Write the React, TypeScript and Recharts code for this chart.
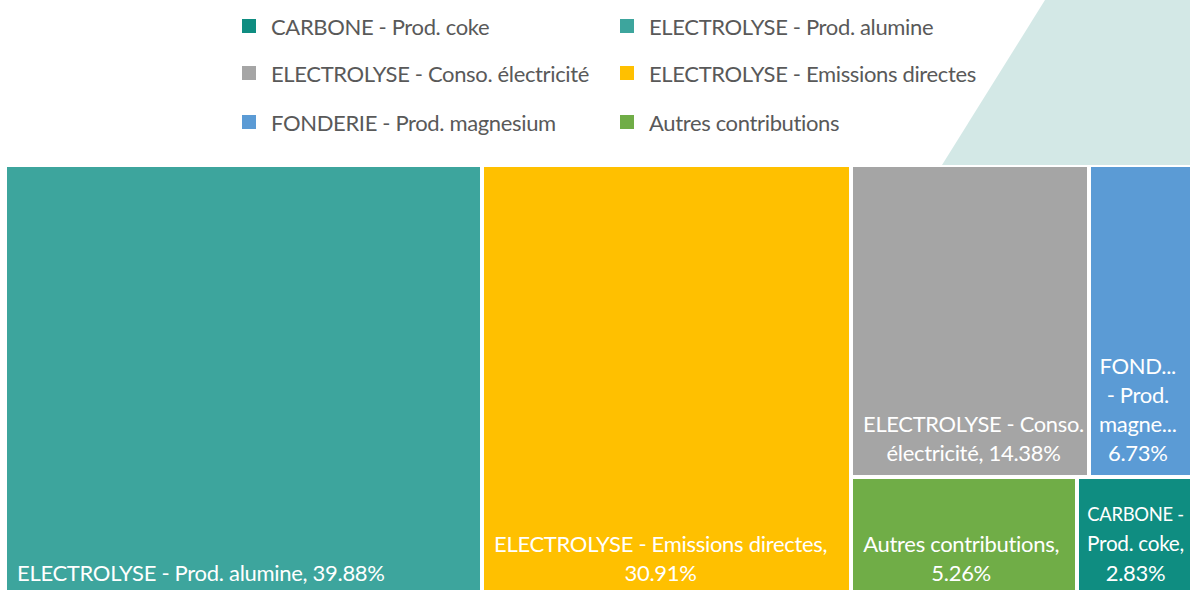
import React from 'react';
import { Treemap } from 'recharts';

// Treemap order (drives the squarified layout)
const categories = [
  'ELECTROLYSE - Prod. alumine',
  'ELECTROLYSE - Emissions directes',
  'ELECTROLYSE - Conso. électricité',
  'FONDERIE - Prod. magnesium',
  'Autres contributions',
  'CARBONE - Prod. coke',
];
const shares = [39.88, 30.91, 14.38, 6.73, 5.26, 2.83];
const colors = ['#3da59d', '#ffc000', '#a5a5a5', '#5b9bd5', '#70ad47', '#0f8d81'];

// legend reads row by row, two columns
const legendOrder = [5, 0, 2, 1, 3, 4];

const FONT = 'Lato, "Noto Sans", sans-serif';
const LABEL_SIZE = 22;
const LETTER = -0.3; // Lato runs a bit wider than the original font
const LINE_H = 29;
const FIT = 0.89; // how much a line may shrink to fit its tile
const CHART_LEFT = 5;
const VIEW_W = 1190;

const data = categories.map((name, i) => ({ name, size: shares[i], fill: colors[i] }));

let ctx: CanvasRenderingContext2D | null = null;
const measure = (s: string) => {
  if (!ctx) {
    ctx = document.createElement('canvas').getContext('2d');
  }
  if (!ctx) return s.length * LABEL_SIZE * 0.5;
  ctx.font = `${LABEL_SIZE}px ${FONT}`;
  return ctx.measureText(s).width + s.length * LETTER;
};
const fits = (s: string, maxW: number, f = FIT) => measure(s) * f <= maxW;

// greedy word wrap, long words get cut with "...", a lone "-" stays on its line
function wrap(text: string, maxW: number) {
  const words = text.split(' ');
  const lines: string[] = [];
  let cur = '';
  words.forEach(w => {
    const trial = cur ? cur + ' ' + w : w;
    const f = w === '-' && cur && !cur.includes(' ') ? 0.8 : FIT;
    if (fits(trial, maxW, f)) {
      cur = trial;
      return;
    }
    if (cur) lines.push(cur);
    if (fits(w, maxW)) {
      cur = w;
    } else {
      let cut = w;
      while (cut.length > 1 && measure(cut + '...') > maxW) cut = cut.slice(0, -1);
      lines.push(cut + '...');
      cur = '';
    }
  });
  if (cur) lines.push(cur);
  return lines;
}

const Tile = (props: any) => {
  const { x, y, width, height, depth, name, size, fill } = props;
  if (depth !== 1) return <g />;
  const label = `${name}, ${size.toFixed(2)}%`;
  const left = x + 2;
  const right = Math.min(x + width - 2, VIEW_W - CHART_LEFT);
  const narrow = right - left < 120;
  const padL = narrow ? 8 : 10;
  const avail = right - left - padL - (narrow ? 6 : 3);
  const lines = wrap(label, avail);
  const widths = lines.map(l => Math.min(measure(l), avail));
  const blockW = Math.max(...widths);
  const cx = left + padL + blockW / 2;
  const bottom = y + height - 2 - 23;
  return (
    <g>
      <rect x={x + 2} y={y + 2} width={width - 4} height={height - 4} fill={fill} />
      {lines.map((l, i) => {
        const w = measure(l);
        const fs = w > avail ? (LABEL_SIZE * avail) / w : LABEL_SIZE;
        return (
          <text
            key={i}
            x={cx}
            y={bottom - (lines.length - 1 - i) * LINE_H}
            textAnchor="middle"
            dominantBaseline="central"
            fill="#ffffff"
            fontFamily={FONT}
            fontSize={fs}
            letterSpacing={LETTER}
          >
            {l}
          </text>
        );
      })}
    </g>
  );
};

const App = () => {
  return (
    <div
      style={{
        position: 'absolute',
        left: 0,
        top: 0,
        width: VIEW_W,
        height: 590,
        overflow: 'hidden',
        background: '#fff',
        fontFamily: FONT,
      }}
    >
      <svg width={VIEW_W} height={170} style={{ position: 'absolute', left: 0, top: 0 }}>
        <polygon points="1045,0 1190,0 1190,165 942,165" fill="#d3e8e6" />
      </svg>

      {legendOrder.map((idx, k) => {
        const col = k % 2;
        const row = Math.floor(k / 2);
        const left = col === 0 ? 242 : 620;
        const cy = [26, 73, 122][row];
        return (
          <div
            key={categories[idx]}
            style={{ position: 'absolute', left, top: cy - 15, height: 30, display: 'flex', alignItems: 'center' }}
          >
            <div style={{ width: 14, height: 14, background: colors[idx], marginRight: 15 }} />
            <span style={{ fontSize: 22, letterSpacing: -0.35, color: '#595959', whiteSpace: 'nowrap' }}>
              {categories[idx]}
            </span>
          </div>
        );
      })}

      <div style={{ position: 'absolute', left: CHART_LEFT, top: 165 }}>
        <Treemap
          width={1195}
          height={432}
          data={data}
          dataKey="size"
          nameKey="name"
          aspectRatio={(1 + Math.sqrt(5)) / 2}
          isAnimationActive={false}
          content={<Tile />}
        />
      </div>
    </div>
  );
};

export default App;
